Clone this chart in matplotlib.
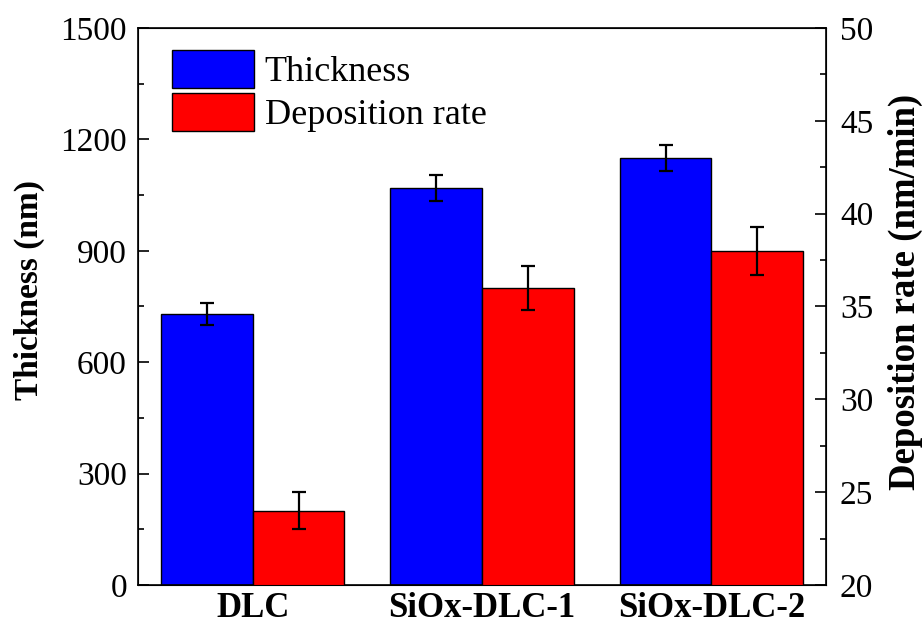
import matplotlib.pyplot as plt
from matplotlib.ticker import MultipleLocator
import numpy as np

plt.rcParams['font.family'] = ['Liberation Serif', 'DejaVu Serif']

# Data
samples = ['DLC', 'SiOx-DLC-1', 'SiOx-DLC-2']
thickness = [730, 1070, 1150]          # nm
thickness_err = [30, 35, 36]
dep_rate = [24, 36, 38]                # nm/min
dep_rate_err = [1.0, 1.2, 1.3]

x = np.arange(len(samples))
w = 0.4

fig = plt.figure(figsize=(9.24, 6.28), dpi=100)
ax = fig.add_axes([0.1494, 0.0685, 0.7446, 0.8869])
ax2 = ax.twinx()

err_kw = dict(elinewidth=1.6, capsize=5, capthick=1.6, ecolor='black')
b1 = ax.bar(x - w / 2, thickness, w, yerr=thickness_err, color='#0000ff',
            edgecolor='black', linewidth=1, error_kw=err_kw, label='Thickness')
b2 = ax2.bar(x + w / 2, dep_rate, w, yerr=dep_rate_err, color='#ff0000',
             edgecolor='black', linewidth=1, error_kw=err_kw, label='Deposition rate')

ax.set_xlim(-0.5, 2.5)
ax.set_ylim(0, 1500)
ax2.set_ylim(20, 50)
ax.yaxis.set_major_locator(MultipleLocator(300))
ax.yaxis.set_minor_locator(MultipleLocator(150))
ax2.yaxis.set_major_locator(MultipleLocator(5))
ax2.yaxis.set_minor_locator(MultipleLocator(2.5))

ax.set_xticks(x)
ax.set_xticklabels(samples, fontsize=25, fontweight='bold')
ax.tick_params(axis='x', length=0, pad=5)
ax.tick_params(axis='y', which='major', direction='in', length=8, width=1.2, labelsize=24, pad=8)
ax.tick_params(axis='y', which='minor', direction='in', length=4, width=1.2)
ax2.tick_params(axis='y', which='major', direction='in', length=8, width=1.2, labelsize=24, pad=10)
ax2.tick_params(axis='y', which='minor', direction='in', length=4, width=1.2)

ax.set_ylabel('Thickness (nm)', fontsize=24, fontweight='bold')
ax2.set_ylabel('Deposition rate (nm/min)', fontsize=26.5, fontweight='bold')
ax.yaxis.set_label_coords(-0.135, 0.53)
ax2.yaxis.set_label_coords(1.09, 0.526)

for sp in ax.spines.values():
    sp.set_linewidth(1.2)

ax.legend([b1, b2], ['Thickness', 'Deposition rate'], loc='upper left',
          bbox_to_anchor=(0.029, 0.987), borderaxespad=0, frameon=False, fontsize=26,
          handlelength=2.25, handleheight=1.25, handletextpad=0.3, labelspacing=0.1)

plt.savefig('out.png', dpi=100)
